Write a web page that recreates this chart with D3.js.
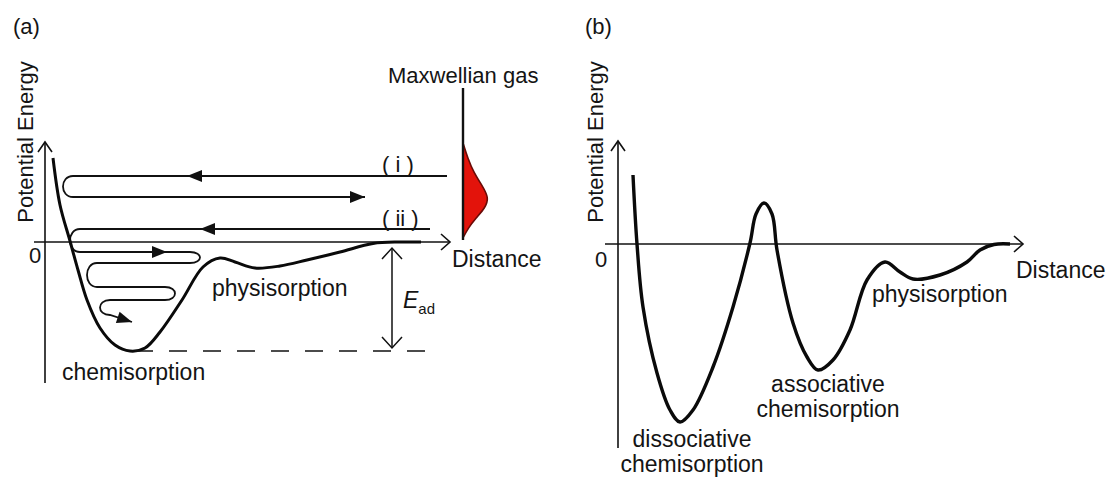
<!DOCTYPE html>
<html>
<head>
<meta charset="utf-8">
<script src="https://cdn.jsdelivr.net/npm/d3@7"></script>
<style>
  body { margin: 0; background: #fff; }
  text { font-family: "Liberation Sans", Arial, Helvetica, sans-serif; fill: #141414; }
</style>
</head>
<body>
<svg id="fig" width="1110" height="482"></svg>
<script>
// ---- data (distance, energy) in arbitrary schematic units ----
// panel (a): single well with physisorption precursor
const curveA = [
  [2, 8.4], [3.75, 3.7], [6.25, 0.1], [8.25, -2.8], [10.5, -5.8], [13.75, -8.6],
  [17.5, -10.3], [21.25, -10.9], [25, -10.6], [28.75, -9], [34.25, -5.8],
  [39.5, -2.5], [43.75, -1.6], [47.5, -2.0], [52.5, -2.6], [58.75, -2.4],
  [65.5, -1.8], [73.75, -1.0], [82, -0.15], [88.75, 0], [94, 0]
];
// panel (b): dissociative + associative chemisorption + physisorption
const curveB = [
  [3.75, 6.9], [4.75, 0], [6.25, -6.3], [9.75, -12.9], [13, -16.6], [15.5, -17.8],
  [18.75, -16.6], [23.75, -12.3], [28.75, -6.3], [33, 0.1], [34.5, 3.0], [36.5, 4.1],
  [38.5, 3.0], [39.75, -0.6], [43.75, -7.9], [47.25, -11.3], [50, -12.6],
  [53.75, -11.6], [58, -8.6], [62.25, -3.6], [66.75, -1.8], [70.5, -2.8],
  [73.75, -3.5], [80.5, -3.1], [87.25, -1.8], [90.5, -0.6], [94, -0.05], [98, 0]
];
// Maxwellian distribution of incoming gas: [energy, relative density]
const maxwell = [
  [9.9, 0], [8.4, 0.18], [6.9, 0.42], [5.6, 0.75], [4.4, 1.0],
  [3.4, 0.85], [2.4, 0.5], [1.4, 0.2], [0.5, 0.02]
];
// trajectories: runs {e, from, to, eEnd?}, joined by U-turns
const trajI = [
  { e: 6.6, from: 100.5, to: 7 },
  { e: 4.5, from: 7, to: 80 }
];
const trajII = [
  { e: 1.3, from: 96.25, to: 8.75 },
  { e: -1.0, from: 8.75, to: 36.25 },
  { e: -2.1, from: 36.25, to: 13 },
  { e: -4.5, from: 13, to: 30 },
  { e: -5.8, from: 30, to: 16.25 },
  { e: -7.3, from: 16.25, to: 21.75, eEnd: -8.0 }
];
// arrowheads on trajectories: [distance, energy, angle in degrees (screen)]
const arrowsI = [[35.5, 6.6, 180], [80, 4.5, 0]];
const arrowsII = [[38.75, 1.3, 180], [30.5, -1.0, 0], [21.75, -8.0, 18]];
const Ead = [-0.6, -10.6];      // energy span of the E_ad arrow
const chemMinA = -10.9;          // dashed reference level

const svg = d3.select("#fig");
svg.append("rect").attr("width", 1110).attr("height", 482).attr("fill", "#fff");

// scales
const xA = d3.scaleLinear().domain([0, 100]).range([45, 445]);
const yA = d3.scaleLinear().domain([-11, 10]).range([352, 142]);
const xB = d3.scaleLinear().domain([0, 100]).range([618, 1018]);
const yB = d3.scaleLinear().domain([-18, 10]).range([424, 144]);

const smooth = d3.curveCatmullRom.alpha(0.5);

function axes(g, x, y, xr, yr) {
  const ox = x(0), oy = y(0);
  g.append("line").attr("x1", x(xr[0])).attr("x2", x(xr[1])).attr("y1", oy).attr("y2", oy)
    .attr("stroke", "#111").attr("stroke-width", 1.6);
  g.append("line").attr("x1", ox).attr("x2", ox).attr("y1", y(yr[0])).attr("y2", y(yr[1]))
    .attr("stroke", "#111").attr("stroke-width", 1.6);
  const tx = x(xr[1]), ty = y(yr[1]);
  g.append("path").attr("d", `M${tx - 9},${oy - 8}L${tx},${oy}L${tx - 9},${oy + 8}`)
    .attr("fill", "none").attr("stroke", "#111").attr("stroke-width", 1.6);
  g.append("path").attr("d", `M${ox - 7},${ty + 10}L${ox},${ty}L${ox + 7},${ty + 10}`)
    .attr("fill", "none").attr("stroke", "#111").attr("stroke-width", 1.6);
}

function label(g, x, y, str, opts = {}) {
  return g.append("text").attr("x", x).attr("y", y)
    .attr("font-size", opts.size || 23)
    .attr("text-anchor", opts.anchor || "start")
    .text(str);
}

function vLabel(g, x, y, str) {
  g.append("text").attr("transform", `translate(${x},${y}) rotate(-90)`)
    .attr("text-anchor", "middle").attr("font-size", 22).text(str);
}

function trajPath(rows, x, y, rx) {
  const p = d3.path();
  const k = rx * 4 / 3;
  rows.forEach((r, i) => {
    const x0 = x(r.from), x1 = x(r.to), yy = y(r.e);
    if (i === 0) p.moveTo(x0, yy);
    p.lineTo(x1, r.eEnd !== undefined ? y(r.eEnd) : yy);
    const nx = rows[i + 1];
    if (nx) {
      const y2 = y(nx.e), dir = x1 < x0 ? -1 : 1;
      p.bezierCurveTo(x1 + dir * k, yy, x1 + dir * k, y2, x1, y2);
    }
  });
  return p.toString();
}

function heads(g, list, x, y) {
  list.forEach(([d, e, ang]) => {
    g.append("path").attr("d", "M0,0L-15,-6L-15,6Z")
      .attr("transform", `translate(${x(d)},${y(e)}) rotate(${ang})`)
      .attr("fill", "#111");
  });
}

// ================= panel (a) =================
const gA = svg.append("g");
label(gA, 13, 34, "(a)", { size: 22 });
vLabel(gA, 33, 142, "Potential Energy");
axes(gA, xA, yA, [-2.75, 101.25], [-14.1, 10]);
label(gA, 29, 263, "0", { size: 22 });

// trajectories
[trajI, trajII].forEach(t => {
  gA.append("path").attr("d", trajPath(t, xA, yA, 10))
    .attr("fill", "none").attr("stroke", "#111").attr("stroke-width", 1.8);
});
heads(gA, arrowsI, xA, yA);
heads(gA, arrowsII, xA, yA);

// potential curve
gA.append("path").datum(curveA)
  .attr("d", d3.line().x(d => xA(d[0])).y(d => yA(d[1])).curve(smooth))
  .attr("fill", "none").attr("stroke", "#0a0a0a").attr("stroke-width", 3);

// dashed chemisorption level
gA.append("line").attr("x1", xA(22.5)).attr("x2", xA(96.75))
  .attr("y1", yA(chemMinA)).attr("y2", yA(chemMinA))
  .attr("stroke", "#111").attr("stroke-width", 1.6).attr("stroke-dasharray", "18,16");

// E_ad double arrow
const ex = xA(86.75), ey0 = yA(Ead[0]), ey1 = yA(Ead[1]);
gA.append("line").attr("x1", ex).attr("x2", ex).attr("y1", ey0).attr("y2", ey1)
  .attr("stroke", "#111").attr("stroke-width", 1.5);
gA.append("path").attr("d", `M${ex - 10},${ey0 + 11}L${ex},${ey0}L${ex + 10},${ey0 + 11}M${ex - 10},${ey1 - 11}L${ex},${ey1}L${ex + 10},${ey1 - 11}`)
  .attr("fill", "none").attr("stroke", "#111").attr("stroke-width", 1.5);
const eadT = gA.append("text").attr("x", ex + 11).attr("y", 308).attr("font-size", 23);
eadT.append("tspan").attr("font-style", "italic").text("E");
eadT.append("tspan").attr("font-size", 15).attr("dy", 6).text("ad");

// Maxwellian gas
const gasX = xA(104.5);
const xM = d3.scaleLinear().domain([0, 1]).range([gasX, xA(111)]);
gA.append("path").datum(maxwell)
  .attr("d", d3.area().y(d => yA(d[0])).x0(gasX).x1(d => xM(d[1])).curve(d3.curveBasis))
  .attr("fill", "#e3130b");
gA.append("path").datum(maxwell)
  .attr("d", d3.line().y(d => yA(d[0])).x(d => xM(d[1])).curve(d3.curveBasis))
  .attr("fill", "none").attr("stroke", "#6a0a06").attr("stroke-width", 1.6);
gA.append("line").attr("x1", gasX).attr("x2", gasX).attr("y1", yA(15.4)).attr("y2", yA(0.2))
  .attr("stroke", "#111").attr("stroke-width", 2.4);

label(gA, 388, 83, "Maxwellian gas", { size: 22 });
label(gA, 452, 267, "Distance");
label(gA, 212, 296, "physisorption");
label(gA, 62, 380, "chemisorption");
label(gA, 382, 172, "( i )", { size: 22 });
label(gA, 382, 226, "( ii )", { size: 22 });

// ================= panel (b) =================
const gB = svg.append("g");
label(gB, 585, 34, "(b)", { size: 22 });
vLabel(gB, 603, 142, "Potential Energy");
axes(gB, xB, yB, [-3.25, 101.25], [-20.4, 10.3]);
label(gB, 595, 267, "0", { size: 22 });

gB.append("path").datum(curveB)
  .attr("d", d3.line().x(d => xB(d[0])).y(d => yB(d[1])).curve(smooth))
  .attr("fill", "none").attr("stroke", "#0a0a0a").attr("stroke-width", 3.4);

label(gB, 1016, 278, "Distance");
label(gB, 872, 302, "physisorption");
label(gB, 828, 392, "associative", { anchor: "middle" });
label(gB, 828, 417, "chemisorption", { anchor: "middle" });
label(gB, 692, 447, "dissociative", { anchor: "middle" });
label(gB, 692, 472, "chemisorption", { anchor: "middle" });
</script>
</body>
</html>
